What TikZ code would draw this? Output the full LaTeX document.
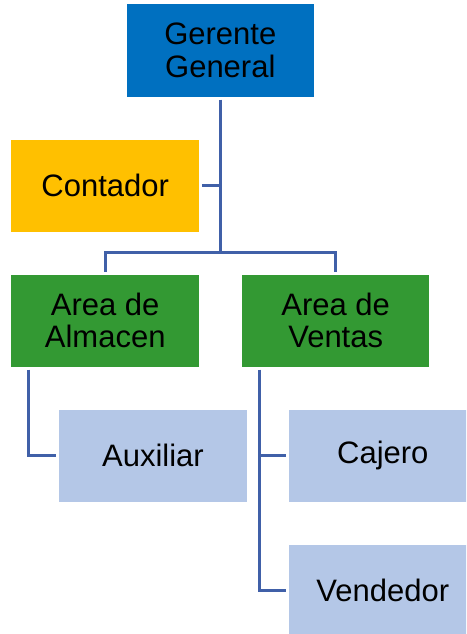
\documentclass[tikz,border=0pt]{standalone}
\usepackage{fontspec}
\setmainfont{Liberation Sans}
\definecolor{gblue}{RGB}{0,112,192}
\definecolor{gorange}{RGB}{255,192,0}
\definecolor{ggreen}{RGB}{51,153,51}
\definecolor{glight}{RGB}{180,199,231}
\definecolor{gline}{RGB}{64,96,168}
\tikzset{
  box/.style={rectangle, minimum width=187.5pt, minimum height=92pt, inner sep=0pt, outer sep=3pt,
    align=center, text=black, font=\fontsize{31}{32.4}\selectfont},
  conn/.style={draw=gline, line width=2.8pt}
}
\begin{document}
\begin{tikzpicture}[x=1pt,y=-1pt]
\clip (0,0) rectangle (466,634);
\node[box, fill=gblue] (G) at (220.3,50.5) {Gerente\\General};
\node[box, fill=gorange] (C) at (105.2,185.7) {Contador};
\node[box, fill=ggreen] (A) at (105.2,320.5) {Area de\\Almacen};
\node[box, fill=ggreen] (V) at (335.7,320.5) {Area de\\Ventas};
\node[box, fill=glight] (X) at (153,455.7) {Auxiliar};
\node[box, fill=glight] (J) at (382.8,455.7) {Cajero};
\node[box, fill=glight] (D) at (382.8,590.5) {Vendedor};
\coordinate (j) at (220.3,252.3);
\draw[conn] (G.south) -- (j);
\draw[conn] (A.north) |- (j) -| (V.north);
\draw[conn] (C.east) -- (C.east -| j);
\draw[conn] ([xshift=20.3pt]A.south west) |- (X.west);
\draw[conn] ([xshift=20.3pt]V.south west) |- (D.west);
\draw[conn] ([xshift=20.3pt]V.south west |- J.west) -- (J.west);
\end{tikzpicture}
\end{document}
